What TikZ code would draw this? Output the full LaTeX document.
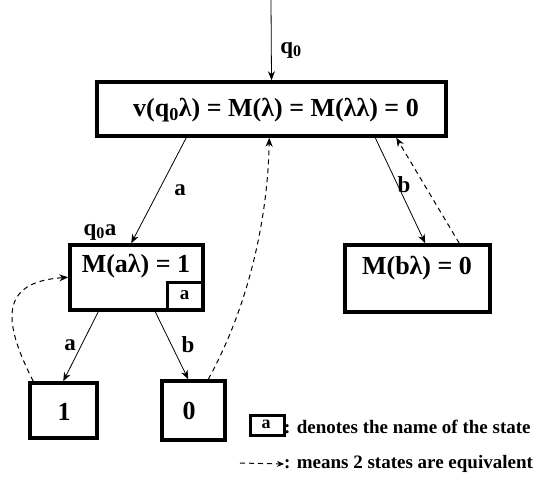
\documentclass[tikz,border=0pt]{standalone}
\usepackage{fontspec}
\setmainfont{Liberation Serif}
\usetikzlibrary{arrows.meta,calc}
\begin{document}
\begin{tikzpicture}[x=1pt,y=-1pt,
  every node/.style={font=\bfseries},
  statebox/.style={draw,line width=3.5pt,inner sep=0pt},
  boxtext/.style={font=\bfseries\fontsize{26}{30}\selectfont,inner sep=0pt},
  lbl/.style={font=\bfseries\fontsize{23}{26}\selectfont,inner sep=0pt},
  legtext/.style={font=\bfseries\fontsize{19}{22}\selectfont,inner sep=0pt,anchor=west},
  trans/.style={-{Stealth[length=9pt,width=7pt]},line width=0.8pt},
  equiv/.style={-{Stealth[length=9pt,width=7pt]},line width=1pt,dash pattern=on 5pt off 4pt}]
\useasboundingbox (0,0) rectangle (543,480);
% boxes
\node[statebox,minimum width=349pt,minimum height=54pt] (main) at (271.5,109) {};
\node[boxtext] (maintxt) at (276,110) {v(q\textsubscript{0}λ) = M(λ) = M(λλ) = 0};
\node[statebox,minimum width=133pt,minimum height=65pt] (mal) at (136.5,277.5) {};
\node[boxtext] (maltxt) at (136,266) {M(aλ) = 1};
\node[statebox,line width=3pt,minimum width=35pt,minimum height=27pt] (aname) at (184.5,296) {};
\node[lbl,font=\bfseries\fontsize{19}{20}\selectfont] (anametxt) at (184.5,295) {a};
\node[statebox,minimum width=145pt,minimum height=67pt] (mbl) at (417.5,278.5) {};
\node[boxtext] (mbltxt) at (417,268) {M(bλ) = 0};
\node[statebox,minimum width=67pt,minimum height=55pt] (one) at (63.5,410.5) {};
\node[boxtext] (onetxt) at (64,412) {1};
\node[statebox,minimum width=63pt,minimum height=59pt] (zero) at (193.5,410.5) {};
\node[boxtext] (zerotxt) at (189,411) {0};
% start
\coordinate (start) at (271,0);
\draw[trans] (start) -- (main.north);
\node[lbl] (q0) at (291,50) {q\textsubscript{0}};
\node[lbl] (q0a) at (100,232) {q\textsubscript{0}a};
% transitions
\draw[trans] ([xshift=91pt]main.south west) -- ([xshift=63pt]mal.north west);
\node[lbl] (la) at (180,190) {a};
\draw[trans] ([xshift=280pt]main.south west) -- ([xshift=82pt]mbl.north west);
\node[lbl] (lb) at (404,185) {b};
\draw[equiv] ([xshift=116pt]mbl.north west) -- ([xshift=301pt]main.south west);
\draw[trans] ([xshift=30pt]mal.south west) -- ([xshift=35pt]one.north west);
\node[lbl] (la2) at (70,345) {a};
\draw[trans] ([xshift=87pt]mal.south west) -- ([xshift=28pt]zero.north west);
\node[lbl] (lb2) at (188,345) {b};
\draw[equiv] ([xshift=5pt]one.north west) .. controls (2,320) and (0,282) .. ([yshift=-34pt]mal.north west);
\draw[equiv] ([xshift=48pt]zero.north west) .. controls (252,300) and (268,210) .. ([xshift=174pt]main.south west);
% legend
\node[statebox,line width=3pt,minimum width=34pt,minimum height=20pt] (legbox) at (267,425) {};
\node[lbl,font=\bfseries\fontsize{18}{20}\selectfont] (legboxtxt) at (266,424) {a};
\node[legtext] (leg1) at (284,427) {: denotes the name of the state};
\coordinate (legs) at (240,463);
\node[legtext] (leg2) at (284,464) {: means 2 states are equivalent};
\draw[equiv,-{Stealth[length=7pt,width=6pt]}] (legs) -- (leg2.west);
\end{tikzpicture}
\end{document}
